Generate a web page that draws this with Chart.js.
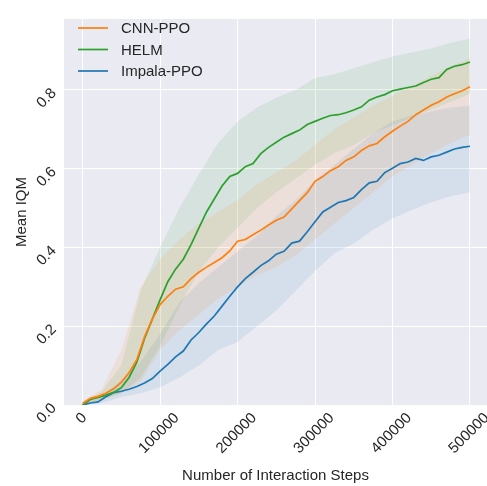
<!DOCTYPE html>
<html lang="en">
<head>
<meta charset="UTF-8" />
<title>Mean IQM</title>
<script src="https://cdn.jsdelivr.net/npm/chart.js"></script>
<style>
  body { margin: 0; background: #fff; }
  #wrap { width: 487px; height: 486px; }
</style>
</head>
<body>
<div id="wrap"><canvas id="grafico"></canvas></div>
<script>
// interaction steps for the mean curves
const steps = [0, 10000, 20000, 30000, 40000, 50000, 60000, 70000, 80000, 90000,
  100000, 110000, 120000, 130000, 140000, 150000, 160000, 170000, 180000, 190000,
  200000, 210000, 220000, 230000, 240000, 250000, 260000, 270000, 280000, 290000,
  300000, 310000, 320000, 330000, 340000, 350000, 360000, 370000, 380000, 390000,
  400000, 410000, 420000, 430000, 440000, 450000, 460000, 470000, 480000, 490000, 500000]

const cnnPpo = [0.004, 0.017, 0.022, 0.030, 0.041, 0.058, 0.082, 0.115, 0.173, 0.218,
  0.255, 0.276, 0.294, 0.300, 0.321, 0.337, 0.350, 0.362, 0.374, 0.391,
  0.416, 0.420, 0.432, 0.444, 0.457, 0.469, 0.477, 0.498, 0.519, 0.539,
  0.568, 0.580, 0.595, 0.605, 0.621, 0.630, 0.646, 0.658, 0.664, 0.681,
  0.695, 0.708, 0.720, 0.737, 0.749, 0.761, 0.770, 0.782, 0.790, 0.798, 0.808]

const helm = [0.000, 0.014, 0.019, 0.025, 0.032, 0.044, 0.070, 0.109, 0.169, 0.218,
  0.267, 0.313, 0.345, 0.370, 0.407, 0.449, 0.490, 0.523, 0.556, 0.580,
  0.588, 0.605, 0.613, 0.638, 0.654, 0.667, 0.680, 0.689, 0.698, 0.712,
  0.720, 0.728, 0.735, 0.737, 0.742, 0.749, 0.757, 0.774, 0.782, 0.788,
  0.798, 0.802, 0.806, 0.810, 0.819, 0.827, 0.831, 0.852, 0.860, 0.864, 0.871]

const impalaPpo = [0.000, 0.005, 0.008, 0.021, 0.031, 0.035, 0.040, 0.047, 0.056, 0.067,
  0.086, 0.103, 0.122, 0.137, 0.165, 0.184, 0.206, 0.226, 0.251, 0.276,
  0.300, 0.321, 0.337, 0.354, 0.366, 0.383, 0.390, 0.411, 0.416, 0.440,
  0.465, 0.490, 0.502, 0.514, 0.519, 0.527, 0.547, 0.564, 0.568, 0.590,
  0.601, 0.613, 0.617, 0.626, 0.621, 0.630, 0.634, 0.642, 0.650, 0.654, 0.657]

// shaded bands (coarser sampling)
const bandSteps = [0, 25000, 50000, 75000, 100000, 125000, 150000, 175000, 200000, 225000,
  250000, 275000, 300000, 325000, 350000, 375000, 400000, 425000, 450000, 475000, 500000]

const cnnPpoUpper = [0.010, 0.040, 0.140, 0.300, 0.370, 0.420, 0.460, 0.490, 0.520, 0.560,
  0.590, 0.620, 0.660, 0.700, 0.730, 0.760, 0.785, 0.810, 0.835, 0.860, 0.880]
const cnnPpoLower = [0.000, 0.015, 0.030, 0.060, 0.140, 0.190, 0.230, 0.270, 0.300, 0.330,
  0.350, 0.380, 0.420, 0.460, 0.500, 0.540, 0.580, 0.610, 0.640, 0.665, 0.686]

const helmUpper = [0.005, 0.035, 0.100, 0.290, 0.400, 0.500, 0.585, 0.665, 0.720, 0.755,
  0.780, 0.800, 0.830, 0.840, 0.855, 0.870, 0.885, 0.895, 0.905, 0.920, 0.930]
const helmLower = [0.000, 0.012, 0.030, 0.070, 0.150, 0.250, 0.340, 0.400, 0.450, 0.500,
  0.540, 0.575, 0.610, 0.640, 0.660, 0.690, 0.710, 0.730, 0.750, 0.770, 0.790]

const impalaPpoUpper = [0.003, 0.025, 0.060, 0.110, 0.180, 0.260, 0.310, 0.350, 0.390, 0.430,
  0.480, 0.520, 0.570, 0.610, 0.650, 0.690, 0.720, 0.735, 0.745, 0.755, 0.760]
const impalaPpoLower = [0.000, 0.005, 0.020, 0.030, 0.045, 0.070, 0.100, 0.140, 0.160, 0.200,
  0.240, 0.290, 0.340, 0.385, 0.410, 0.445, 0.474, 0.495, 0.515, 0.530, 0.540]

const xTicks = [0, 100000, 200000, 300000, 400000, 500000]
const yTicks = [0.0, 0.2, 0.4, 0.6, 0.8]

const FONT = '"Liberation Sans", Arial, sans-serif'
const COR_TEXTO = '#262626'
Chart.defaults.font.family = FONT
Chart.defaults.font.size = 15
Chart.defaults.color = COR_TEXTO

const pontos = (xs, ys) => xs.map((x, i) => ({ x: x, y: ys[i] }))

const linha = (label, ys, cor) => ({
  label: label,
  data: pontos(steps, ys),
  borderColor: cor,
  borderWidth: 1.7,
  pointRadius: 0,
  fill: false,
})

const faixa = (ys, cor, preenche) => ({
  label: '',
  data: pontos(bandSteps, ys),
  borderWidth: 0,
  pointRadius: 0,
  backgroundColor: cor,
  fill: preenche ? '-1' : false,
})

const fundo = {
  id: 'fundo',
  beforeDraw(chart) {
    const { ctx, chartArea: a } = chart
    ctx.save()
    ctx.fillStyle = '#EAEAF2'
    ctx.fillRect(a.left, a.top, a.right - a.left, a.bottom - a.top)
    ctx.restore()
  },
}

// x tick labels: rotated 45 degrees, box centred under the tick (matplotlib style)
const rotulosX = {
  id: 'rotulosX',
  afterDraw(chart) {
    const ctx = chart.ctx
    const sx = chart.scales.x
    ctx.save()
    ctx.font = '15px ' + FONT
    ctx.fillStyle = COR_TEXTO
    ctx.textAlign = 'center'
    ctx.textBaseline = 'middle'
    xTicks.forEach((v) => {
      const txt = String(v)
      const w = ctx.measureText(txt).width
      const cx = sx.getPixelForValue(v) - 1
      const cy = sx.top + 7 + (w + 10) * 0.354
      ctx.save()
      ctx.translate(cx, cy)
      ctx.rotate(-Math.PI / 4)
      ctx.fillText(txt, 0, 0)
      ctx.restore()
    })
    ctx.restore()
  },
}

// legend drawn inside the plot, upper left
const legenda = {
  id: 'legenda',
  afterDraw(chart) {
    const ctx = chart.ctx
    ctx.save()
    ctx.font = '15px ' + FONT
    ctx.textBaseline = 'middle'
    const linhas = [28, 49.5, 71]
    for (let i = 0; i < 3; i++) {
      const ds = chart.data.datasets[i]
      ctx.strokeStyle = ds.borderColor
      ctx.lineWidth = 1.7
      ctx.beginPath()
      ctx.moveTo(78, linhas[i])
      ctx.lineTo(108, linhas[i])
      ctx.stroke()
      ctx.fillStyle = COR_TEXTO
      ctx.fillText(ds.label, 121, linhas[i] + 1)
    }
    ctx.restore()
  },
}

const grafico = new Chart(document.getElementById('grafico'), {
  type: 'line',
  data: {
    datasets: [
      linha('CNN-PPO', cnnPpo, '#ff7f0e'),
      linha('HELM', helm, '#2ca02c'),
      linha('Impala-PPO', impalaPpo, '#1f77b4'),
      faixa(cnnPpoLower, 'rgba(255,127,14,0.1)', false),
      faixa(cnnPpoUpper, 'rgba(255,127,14,0.1)', true),
      faixa(helmLower, 'rgba(44,160,44,0.1)', false),
      faixa(helmUpper, 'rgba(44,160,44,0.1)', true),
      faixa(impalaPpoLower, 'rgba(31,119,180,0.1)', false),
      faixa(impalaPpoUpper, 'rgba(31,119,180,0.1)', true),
    ],
  },
  options: {
    responsive: true,
    maintainAspectRatio: false,
    animation: false,
    layout: { padding: { top: 8, right: 0, left: 0, bottom: 0 } },
    plugins: {
      legend: { display: false },
      tooltip: { enabled: false },
    },
    scales: {
      x: {
        type: 'linear',
        min: -24000,
        max: 522000,
        afterBuildTicks: (s) => { s.ticks = xTicks.map((v) => ({ value: v })) },
        afterFit: (s) => { s.height = 81 },
        grid: { color: '#ffffff', lineWidth: 1, drawTicks: false },
        border: { display: false },
        ticks: { display: false },
        title: {
          display: true,
          text: 'Number of Interaction Steps',
          font: { size: 15 },
          color: COR_TEXTO,
          padding: { top: 0, bottom: 1 },
        },
      },
      y: {
        min: 0,
        max: 0.98,
        afterBuildTicks: (s) => { s.ticks = yTicks.map((v) => ({ value: v })) },
        afterFit: (s) => { s.width = 64 },
        grid: { color: '#ffffff', lineWidth: 1, drawTicks: false },
        border: { display: false },
        ticks: {
          minRotation: 45,
          maxRotation: 45,
          padding: 10,
          labelOffset: 1,
          font: { size: 15 },
          color: COR_TEXTO,
          callback: (v) => v.toFixed(1),
        },
        title: {
          display: true,
          text: 'Mean IQM',
          font: { size: 15 },
          color: COR_TEXTO,
          padding: { top: 13, bottom: 0 },
        },
      },
    },
  },
  plugins: [fundo, rotulosX, legenda],
})
</script>
</body>
</html>
